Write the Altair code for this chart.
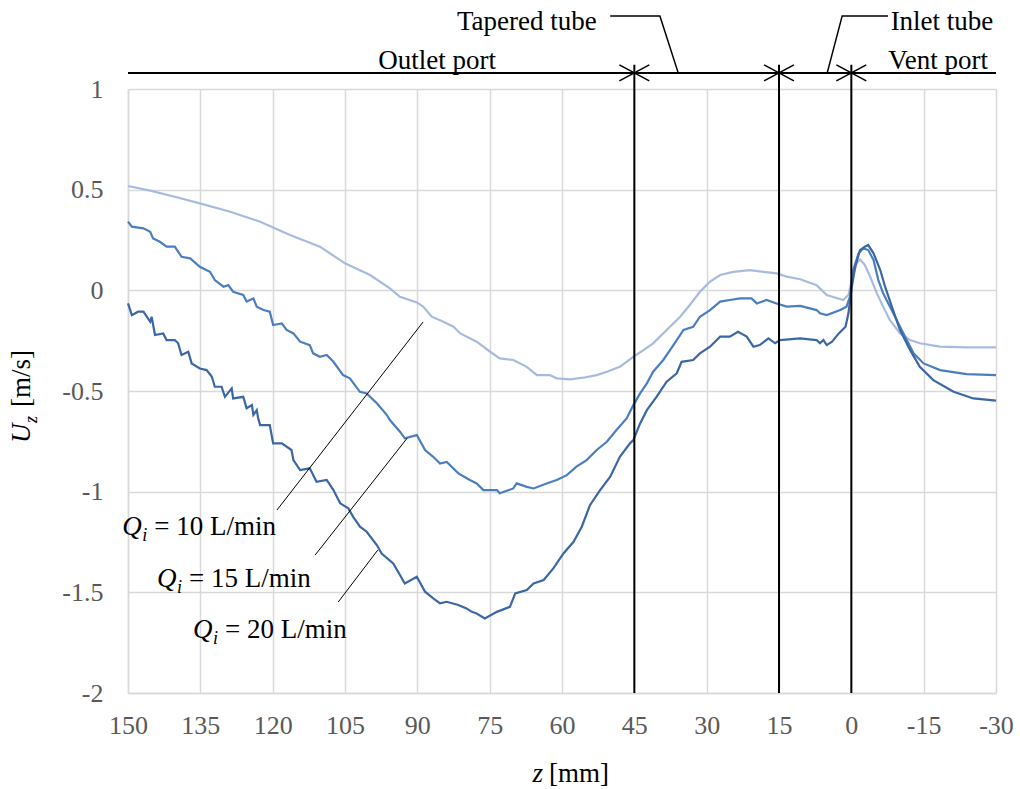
import altair as alt
import pandas as pd

FONT = "Liberation Serif"

# ---- series: Q_i = 10 L/min ----
z10 = [150, 145.4, 140.3, 135.1, 128.8, 122.6, 116.4, 110.2, 105.0, 99.8,
       95.7, 93.6, 90.1, 88.8, 87.0, 84.6, 82.5, 81.1, 77.7, 74.9,
       72.9, 70.1, 67.3, 65.2, 62.5, 61.1, 58.3, 55.6, 52.8, 50.7,
       48.0, 45.2, 43.1, 41.1, 38.3, 35.5, 33.5, 31.4, 29.3, 27.2,
       24.5, 21.0, 18.2, 15.5, 13.4, 10.6, 7.2, 5.1, 1.7, 0.6,
       -0.1, -1.1, -1.8, -2.8, -3.9, -5.3, -6.6, -8.0, -10.1, -12.2,
       -14.2, -18.4, -23.9, -30]
u10 = [0.518, 0.495, 0.465, 0.432, 0.39, 0.341, 0.275, 0.217, 0.134, 0.076,
       0.01, -0.032, -0.06, -0.081, -0.131, -0.156, -0.181, -0.214, -0.255, -0.305,
       -0.338, -0.346, -0.38, -0.421, -0.421, -0.437, -0.442, -0.434, -0.421, -0.404,
       -0.38, -0.33, -0.297, -0.263, -0.197, -0.131, -0.073, -0.007, 0.043, 0.076,
       0.092, 0.10, 0.092, 0.084, 0.068, 0.055, 0.026, -0.023, -0.048, -0.023,
       0.051, 0.134, 0.154, 0.126, 0.068, -0.015, -0.081, -0.148, -0.214, -0.247,
       -0.263, -0.28, -0.283, -0.283]

# ---- series: Q_i = 15 L/min ----
z15 = [150, 149.2, 146.8, 145.4, 144.8, 143.4, 142.0, 140.3, 138.9, 137.1,
       135.1, 133.0, 132.0, 130.2, 129.2, 128.2, 126.1, 125.4, 124.0, 123.3,
       121.9, 120.6, 119.9, 118.1, 117.1, 115.7, 114.3, 112.3, 111.6, 110.2,
       108.8, 107.4, 105.4, 104.0, 101.9, 100.5, 98.4, 96.3, 95.7,
       93.6, 92.6, 90.1, 88.4, 86.7, 85.3, 83.9, 81.5, 79.1, 77.7,
       76.3, 73.5, 72.9, 70.1, 69.4, 67.3, 65.9, 63.2, 61.1, 59.0,
       57.0, 54.9, 52.8, 50.7, 48.7, 46.6, 45.2, 43.8, 42.4, 41.1,
       39.0, 37.6, 36.2, 34.8, 32.8, 31.4, 29.3, 27.2, 25.2, 23.1,
       20.7, 19.6, 17.6, 15.5, 13.4, 10.6,
       7.2, 6.5, 5.1, 2.3, 1.0, 0.3, -0.4, -1.5, -2.5, -3.5,
       -4.6, -5.6, -6.6, -8.7, -10.1, -11.5, -12.9, -15.0, -18.4, -23.9, -30]
u15 = [0.341, 0.316, 0.308, 0.291, 0.258, 0.241, 0.217, 0.217, 0.167, 0.159,
       0.117, 0.092, 0.051, 0.018, 0.026, -0.007, -0.023, -0.056, -0.04, -0.081,
       -0.098, -0.106, -0.172, -0.164, -0.197, -0.214, -0.255, -0.272, -0.313, -0.33,
       -0.321, -0.355, -0.421, -0.437, -0.504, -0.512, -0.561, -0.62, -0.644,
       -0.702, -0.735, -0.719, -0.793, -0.827, -0.86, -0.852, -0.909, -0.942, -0.959,
       -0.992, -0.992, -1.008, -0.984, -0.959, -0.976, -0.984, -0.959, -0.942, -0.918,
       -0.876, -0.843, -0.793, -0.752, -0.694, -0.636, -0.57, -0.512, -0.462, -0.404,
       -0.346, -0.297, -0.247, -0.197, -0.181, -0.131, -0.098, -0.056, -0.048, -0.04,
       -0.04, -0.065, -0.048, -0.065, -0.081, -0.077,
       -0.098, -0.114, -0.123, -0.098, -0.081, -0.032, 0.101, 0.184, 0.209, 0.2,
       0.151, 0.051, -0.015, -0.114, -0.181, -0.247, -0.313, -0.363, -0.396, -0.416, -0.421]

# ---- series: Q_i = 20 L/min ----
z20 = [150, 149.2, 147.9, 146.8, 146.1, 145.4, 145.1, 144.4, 142.7, 142.0,
       140.3, 139.6, 138.9, 137.5, 136.8, 135.1, 133.7, 132.6, 132.0, 130.6,
       129.9, 128.5, 128.2, 126.1, 125.4, 124.3, 124.0, 123.3, 123.0,
       122.6, 120.6, 119.9, 118.1, 116.1, 115.7, 114.3, 112.3, 110.9, 108.8,
       107.4, 106.0, 104.3, 103.3, 101.9, 100.5, 98.4, 97.4, 95.0,
       93.6, 92.6, 90.1, 88.4, 86.7, 85.3, 83.9, 81.5, 79.8, 78.7,
       77.7, 76.0, 73.5, 70.8, 69.7, 67.3, 65.9, 63.8, 61.8, 59.7,
       57.6, 55.9, 54.2, 52.1, 50.0, 48.0, 45.9, 45.2, 43.8, 42.4,
       40.4, 38.3, 36.2, 35.2, 32.8, 31.4, 29.3, 27.2, 25.2, 23.5,
       21.7, 20.3, 19.0, 17.2, 15.8, 14.8, 10.6,
       7.2, 6.5, 5.8, 5.1, 4.0, 2.6, 1.2, 0.6, -0.1, -0.8,
       -1.8, -2.8, -3.5, -4.6, -6.0, -7.0, -8.4, -10.1, -12.2, -14.2,
       -17.0, -21.2, -25.3, -30]
u20 = [-0.065, -0.123, -0.106, -0.106, -0.131, -0.156, -0.131, -0.222, -0.214, -0.247,
       -0.247, -0.263, -0.321, -0.305, -0.363, -0.388, -0.396, -0.429, -0.479, -0.479,
       -0.529, -0.487, -0.537, -0.529, -0.586, -0.57, -0.619, -0.595, -0.636,
       -0.669, -0.669, -0.76, -0.76, -0.793, -0.843, -0.893, -0.884, -0.951, -0.942,
       -0.992, -1.058, -1.083, -1.125, -1.174, -1.199, -1.265, -1.307, -1.356,
       -1.414, -1.456, -1.423, -1.497, -1.53, -1.555, -1.547, -1.563, -1.58, -1.597,
       -1.605, -1.63, -1.597, -1.572, -1.505, -1.489, -1.456, -1.439, -1.381, -1.307,
       -1.249, -1.174, -1.067, -0.992, -0.926, -0.827, -0.76, -0.744, -0.661, -0.595,
       -0.529, -0.454, -0.412, -0.355, -0.346, -0.313, -0.28, -0.23, -0.23, -0.206,
       -0.23, -0.28, -0.272, -0.239, -0.263, -0.247, -0.239,
       -0.247, -0.263, -0.247, -0.272, -0.255, -0.214, -0.181, -0.114, 0.018, 0.117,
       0.2, 0.217, 0.225, 0.184, 0.101, 0.018, -0.081, -0.197, -0.297, -0.38,
       -0.446, -0.504, -0.537, -0.548]

series_names = ["10", "15", "20"]
series_colors = ["#a8bbdf", "#4b7ec0", "#3b67a5"]

x_ticks = [150, 135, 120, 105, 90, 75, 60, 45, 30, 15, 0, -15, -30]
y_ticks = [1, 0.5, 0, -0.5, -1, -1.5, -2]

# section boundaries (z, mm)
boundaries = [45, 15, 0]
bar_level = 1.08
section_labels = ["Outlet port", "Tapered tube", "Inlet tube", "Vent port"]
section_label_z = [85.9, 67.3, -18.8, -18.0]
section_label_u = [1.099, 1.293, 1.293, 1.099]

flow_labels = ["= 10 L/min", "= 15 L/min", "= 20 L/min"]
flow_label_z = [151.2, 144.0, 136.5]
flow_label_u = [-1.216, -1.474, -1.727]
flow_leader_z = [119.1, 111.2, 106.4]
flow_leader_u = [-1.091, -1.315, -1.548]
flow_leader_z2 = [88.8, 92.1, 98.2]
flow_leader_u2 = [-0.157, -0.734, -1.290]

# ---- build tables ----
rows = []
for name, zs, us in zip(series_names, [z10, z15, z20], [u10, u15, u20]):
    for i, (z, u) in enumerate(zip(zs, us)):
        rows.append({"series": name, "z": z, "u": u, "o": i})
df = pd.DataFrame(rows)

xscale = alt.Scale(domain=[150, -30], nice=False, zero=False)
yscale = alt.Scale(domain=[-2, 1], nice=False, zero=False)

xaxis = alt.Axis(values=x_ticks, labelExpr="'' + datum.value", labelFont=FONT,
                 labelFontSize=26, labelColor="#595959", ticks=False,
                 domainColor="#d9d9d9", domainWidth=1.5, grid=True,
                 gridColor="#d9d9d9", gridWidth=1.5, labelPadding=19,
                 title=None, labelFlush=False, labelOverlap=False)
yaxis = alt.Axis(values=y_ticks, labelExpr="'' + datum.value", labelFont=FONT,
                 labelFontSize=26, labelColor="#595959", ticks=False,
                 domainColor="#d9d9d9", domainWidth=1.5, grid=True,
                 gridColor="#d9d9d9", gridWidth=1.5, labelPadding=25,
                 title=None, labelFlush=False, labelOverlap=False)

X = lambda f: alt.X(f, scale=xscale, axis=xaxis, title=None)
Y = lambda f: alt.Y(f, scale=yscale, axis=yaxis, title=None)

lines = alt.Chart(df).mark_line(strokeWidth=2.2).encode(
    x=X("z:Q"),
    y=Y("u:Q"),
    color=alt.Color("series:N", scale=alt.Scale(domain=series_names, range=series_colors), legend=None),
    order="o:Q",
)

# vertical boundary lines
df_v = pd.DataFrame({"z": boundaries, "u0": [-2] * 3, "u1": [1.12] * 3})
vlines = alt.Chart(df_v).mark_rule(color="black", strokeWidth=2).encode(
    x=X("z:Q"), y=Y("u0:Q"), y2="u1:Q")

# horizontal section bar
df_h = pd.DataFrame({"z0": [150], "z1": [-30], "u": [bar_level]})
hline = alt.Chart(df_h).mark_rule(color="black", strokeWidth=2).encode(
    x=X("z0:Q"), x2="z1:Q", y=Y("u:Q"))

# arrow heads at each boundary
arr = []
for zc in boundaries:
    for sx in (-3.1, 3.1):
        for sy in (-0.04, 0.04):
            arr.append({"z0": zc, "z1": zc + sx, "u0": bar_level, "u1": bar_level + sy})
arrows = alt.Chart(pd.DataFrame(arr)).mark_rule(color="black", strokeWidth=1.5).encode(
    x=X("z0:Q"), x2="z1:Q", y=Y("u0:Q"), y2="u1:Q")

# leaders for top labels
lead = pd.DataFrame({
    "g": ["t", "t", "t", "i", "i", "i"],
    "o": [0, 1, 2, 0, 1, 2],
    "z": [50.0, 39.7, 35.9, -7.6, 1.9, 5.0],
    "u": [1.363, 1.363, bar_level, 1.363, 1.363, bar_level],
})
leaders = alt.Chart(lead).mark_line(color="black", strokeWidth=1.5).encode(
    x=X("z:Q"), y=Y("u:Q"), detail="g:N", order="o:Q")

df_sec = pd.DataFrame({"t": section_labels, "z": section_label_z, "u": section_label_u})
sec_text = alt.Chart(df_sec).mark_text(font=FONT, fontSize=27, color="black",
                                       align="center", baseline="alphabetic").encode(
    x=X("z:Q"), y=Y("u:Q"), text="t:N")

# flow-rate labels and leaders
df_fl = pd.DataFrame({"t": flow_labels, "z": flow_label_z, "u": flow_label_u,
                      "za": flow_leader_z, "ua": flow_leader_u,
                      "zb": flow_leader_z2, "ub": flow_leader_u2,
                      "q": ["Q"] * 3, "i": ["i"] * 3})
fl_lead = alt.Chart(df_fl).mark_rule(color="black", strokeWidth=1).encode(
    x=X("za:Q"), x2="zb:Q", y=Y("ua:Q"), y2="ub:Q")
fl_q = alt.Chart(df_fl).mark_text(font=FONT, fontSize=27, fontStyle="italic", color="black",
                                  align="left", baseline="alphabetic").encode(
    x=X("z:Q"), y=Y("u:Q"), text="q:N")
fl_i = alt.Chart(df_fl).mark_text(font=FONT, fontSize=18, fontStyle="italic", color="black",
                                  align="left", baseline="alphabetic", dx=20, dy=6).encode(
    x=X("z:Q"), y=Y("u:Q"), text="i:N")
fl_t = alt.Chart(df_fl).mark_text(font=FONT, fontSize=27, color="black",
                                  align="left", baseline="alphabetic", dx=32).encode(
    x=X("z:Q"), y=Y("u:Q"), text="t:N")

# axis titles
one = lambda s: pd.DataFrame({"t": [s]})
xt_z = alt.Chart(one("z")).mark_text(font=FONT, fontSize=27, fontStyle="italic", color="black",
                                     align="right", baseline="alphabetic").encode(
    x=alt.value(415), y=alt.value(693), text="t:N")
xt_mm = alt.Chart(one("[mm]")).mark_text(font=FONT, fontSize=27, color="black",
                                         align="left", baseline="alphabetic").encode(
    x=alt.value(421), y=alt.value(693), text="t:N")
yt_u = alt.Chart(one("U")).mark_text(font=FONT, fontSize=27, fontStyle="italic", color="black",
                                     align="left", baseline="alphabetic", angle=270).encode(
    x=alt.value(-98), y=alt.value(354), text="t:N")
yt_z = alt.Chart(one("z")).mark_text(font=FONT, fontSize=18, fontStyle="italic", color="black",
                                     align="left", baseline="alphabetic", angle=270).encode(
    x=alt.value(-91), y=alt.value(334), text="t:N")
yt_ms = alt.Chart(one("[m/s]")).mark_text(font=FONT, fontSize=27, color="black",
                                          align="left", baseline="alphabetic", angle=270).encode(
    x=alt.value(-98), y=alt.value(318), text="t:N")

chart = alt.layer(
    lines, vlines, hline, arrows, leaders, sec_text,
    fl_lead, fl_q, fl_i, fl_t, xt_z, xt_mm, yt_u, yt_z, yt_ms,
).properties(
    width=868, height=604,
    padding={"left": 128, "top": 89, "right": 24, "bottom": 96},
    autosize=alt.AutoSizeParams(type="none"),
    background="white",
).configure_view(stroke=None)

chart.save("out.html", embed_options={"renderer": "svg", "actions": False})
